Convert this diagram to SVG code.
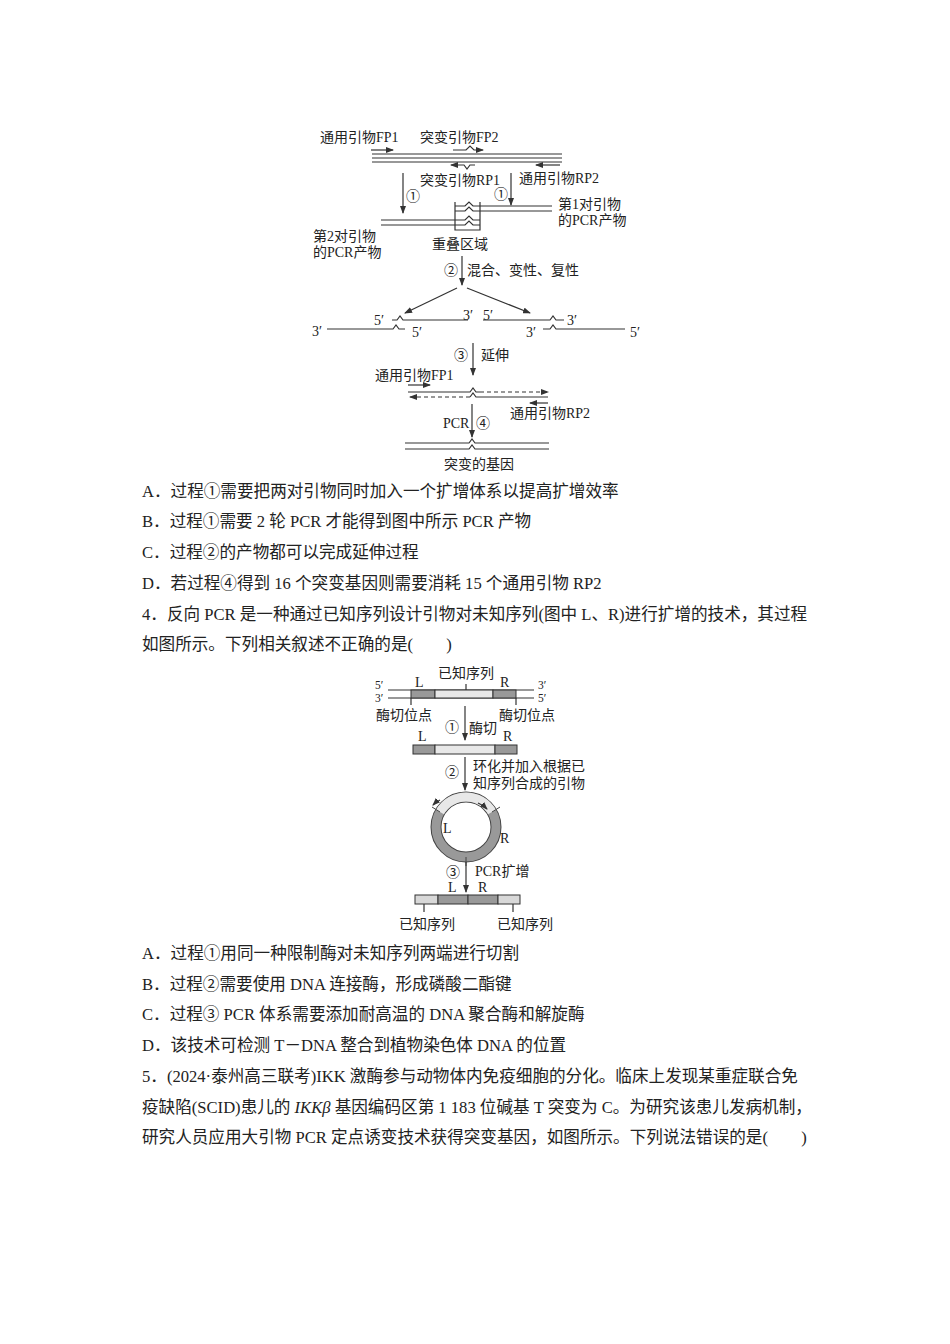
<svg xmlns="http://www.w3.org/2000/svg" width="950" height="1344" viewBox="0 0 950 1344">
<style>
text{font-family:"Liberation Serif","Noto Sans CJK SC",serif;fill:#222}
.b{font-size:16.6px}
.s{font-size:14px}
.t{font-size:11.5px}
.l{stroke:#333;stroke-width:1.2;fill:none}
.d{stroke:#333;stroke-width:1.2;fill:none;stroke-dasharray:4 3}
</style>
<defs>
<marker id="ah" markerWidth="8" markerHeight="6" refX="7" refY="3" orient="auto" markerUnits="userSpaceOnUse"><path d="M0,0L8,3L0,6z" fill="#333"/></marker>
</defs>
<rect width="950" height="1344" fill="#fff"/>

<g id="fig1">
<text class="s" x="320" y="142">通用引物FP1</text>
<text class="s" x="420" y="142">突变引物FP2</text>
<line class="l" x1="371" y1="150" x2="393" y2="150" marker-end="url(#ah)"/>
<path class="l" d="M453,150H466L470,146L474,150H483" marker-end="url(#ah)"/>
<line class="l" x1="372" y1="154" x2="562" y2="154"/>
<line class="l" x1="372" y1="158" x2="562" y2="158"/>
<line class="l" x1="372" y1="162" x2="562" y2="162"/>
<path class="l" d="M475,165H470L467,169L464,165H451" marker-end="url(#ah)"/>
<line class="l" x1="560" y1="165" x2="536" y2="165" marker-end="url(#ah)"/>
<text class="s" x="420" y="185">突变引物RP1</text>
<text class="s" x="519" y="183">通用引物RP2</text>
<line class="l" x1="403" y1="173" x2="403" y2="213" marker-end="url(#ah)"/>
<text class="s" x="406" y="201">①</text>
<line class="l" x1="511" y1="173" x2="511" y2="205" marker-end="url(#ah)"/>
<text class="s" x="494" y="199">①</text>
<path class="l" d="M455,206H465L469,202L473,206H552"/>
<path class="l" d="M455,211H465L469,207L473,211H552"/>
<path class="l" d="M381,220H465L469,216L473,220H480"/>
<path class="l" d="M381,225H465L469,221L473,225H480"/>
<path class="l" d="M455,202V230H480V202"/>
<text class="s" x="558" y="209">第1对引物</text>
<text class="s" x="558" y="225">的PCR产物</text>
<text class="s" x="313" y="241">第2对引物</text>
<text class="s" x="313" y="257">的PCR产物</text>
<text class="s" x="432" y="249">重叠区域</text>
<line class="l" x1="462" y1="256" x2="462" y2="285" marker-end="url(#ah)"/>
<text class="s" x="444" y="275">②</text>
<text class="s" x="467" y="275">混合、变性、复性</text>
<line class="l" x1="457" y1="288" x2="405" y2="313" marker-end="url(#ah)"/>
<line class="l" x1="467" y1="288" x2="530" y2="313" marker-end="url(#ah)"/>
<text class="s" x="374" y="325">5′</text>
<path class="l" d="M392,320H397L400,316L403,320H468"/>
<text class="s" x="463" y="320">3′</text>
<text class="s" x="312" y="336">3′</text>
<path class="l" d="M327,329H393L396,325L399,329H405"/>
<text class="s" x="412" y="337">5′</text>
<text class="s" x="483" y="320">5′</text>
<path class="l" d="M483,320H550L553,316L556,320H564"/>
<text class="s" x="567" y="325">3′</text>
<text class="s" x="526" y="337">3′</text>
<path class="l" d="M543,329H550L553,325L556,329H625"/>
<text class="s" x="630" y="337">5′</text>
<line class="l" x1="473" y1="343" x2="473" y2="375" marker-end="url(#ah)"/>
<text class="s" x="454" y="360">③</text>
<text class="s" x="481" y="360">延伸</text>
<text class="s" x="375" y="380">通用引物FP1</text>
<line class="l" x1="408" y1="385" x2="430" y2="385" marker-end="url(#ah)"/>
<path class="l" d="M408,392H470L473,388L476,392H480"/>
<line class="d" x1="480" y1="392" x2="548" y2="392" marker-end="url(#ah)"/>
<path class="l" d="M548,397H476L473,393L470,397"/>
<line class="d" x1="470" y1="397" x2="410" y2="397" marker-end="url(#ah)"/>
<line class="l" x1="548" y1="403" x2="530" y2="403" marker-end="url(#ah)"/>
<text class="s" x="510" y="418">通用引物RP2</text>
<line class="l" x1="472" y1="404" x2="472" y2="437" marker-end="url(#ah)"/>
<text class="s" x="443" y="428">PCR</text>
<text class="s" x="476" y="428">④</text>
<path class="l" d="M405,443H469L472,439L475,443H549"/>
<path class="l" d="M405,449H469L472,445L475,449H549"/>
<text class="s" x="444" y="469">突变的基因</text>
</g>

<g id="text1">
<text class="b" x="142" y="497">A．过程①需要把两对引物同时加入一个扩增体系以提高扩增效率</text>
<text class="b" x="142" y="527">B．过程①需要 2 轮 PCR 才能得到图中所示 PCR 产物</text>
<text class="b" x="142" y="558">C．过程②的产物都可以完成延伸过程</text>
<text class="b" x="142" y="589">D．若过程④得到 16 个突变基因则需要消耗 15 个通用引物 RP2</text>
<text class="b" x="142" y="620">4．反向 PCR 是一种通过已知序列设计引物对未知序列(图中 L、R)进行扩增的技术，其过程</text>
<text class="b" x="142" y="650">如图所示。下列相关叙述不正确的是(　　)</text>
</g>

<g id="fig2">
<text class="s" x="438" y="678">已知序列</text>
<line class="l" x1="466" y1="684" x2="466" y2="690"/>
<text class="t" x="375" y="689">5′</text>
<text class="t" x="375" y="702">3′</text>
<text class="t" x="538" y="689">3′</text>
<text class="t" x="538" y="702">5′</text>
<line class="l" x1="388" y1="690" x2="534" y2="690"/>
<line class="l" x1="388" y1="698" x2="534" y2="698"/>
<rect x="411" y="690" width="24" height="8" fill="#999" stroke="#333"/>
<rect x="435" y="690" width="58" height="8" fill="#e8e8e8" stroke="#333"/>
<rect x="493" y="690" width="23" height="8" fill="#999" stroke="#333"/>
<text class="s" x="415" y="687">L</text>
<text class="s" x="500" y="687">R</text>
<line class="l" x1="411" y1="698" x2="411" y2="705"/>
<line class="l" x1="516" y1="698" x2="516" y2="705"/>
<text class="s" x="376" y="720">酶切位点</text>
<text class="s" x="499" y="720">酶切位点</text>
<line class="l" x1="465" y1="706" x2="465" y2="740" marker-end="url(#ah)"/>
<text class="s" x="445" y="732">①</text>
<text class="s" x="469" y="733">酶切</text>
<text class="s" x="418" y="741">L</text>
<text class="s" x="503" y="741">R</text>
<rect x="413" y="745" width="22" height="9" fill="#999" stroke="#333"/>
<rect x="435" y="745" width="60" height="9" fill="#e8e8e8" stroke="#333"/>
<rect x="495" y="745" width="22" height="9" fill="#999" stroke="#333"/>
<line class="l" x1="465" y1="757" x2="465" y2="790" marker-end="url(#ah)"/>
<text class="s" x="445" y="777">②</text>
<text class="s" x="473" y="771">环化并加入根据已</text>
<text class="s" x="473" y="788">知序列合成的引物</text>
<circle cx="466" cy="827" r="30" fill="none" stroke="#444" stroke-width="11"/>
<circle cx="466" cy="827" r="30" fill="none" stroke="#999" stroke-width="9"/>
<path d="M440,812A30,30 0 0 1 492,812" fill="none" stroke="#e8e8e8" stroke-width="9"/>
<line x1="440" y1="812" x2="432" y2="807" stroke="#444"/>
<line x1="492" y1="812" x2="500" y2="807" stroke="#444"/>
<line x1="466" y1="857" x2="466" y2="866" stroke="#444"/>
<path class="l" d="M440,800Q436,802 433,805" marker-end="url(#ah)"/>
<path class="l" d="M478,803Q483,805 487,809" marker-end="url(#ah)"/>
<text class="s" x="443" y="833">L</text>
<text class="s" x="500" y="843">R</text>
<line class="l" x1="466" y1="862" x2="466" y2="892" marker-end="url(#ah)"/>
<text class="s" x="446" y="877">③</text>
<text class="s" x="475" y="876">PCR扩增</text>
<text class="s" x="448" y="892">L</text>
<text class="s" x="478" y="892">R</text>
<rect x="415" y="895" width="23" height="9" fill="#d8d8d8" stroke="#333"/>
<rect x="438" y="895" width="30" height="9" fill="#999" stroke="#333"/>
<rect x="468" y="895" width="30" height="9" fill="#999" stroke="#333"/>
<rect x="498" y="895" width="22" height="9" fill="#d8d8d8" stroke="#333"/>
<line class="l" x1="424" y1="904" x2="424" y2="912"/>
<line class="l" x1="513" y1="904" x2="513" y2="912"/>
<text class="s" x="399" y="929">已知序列</text>
<text class="s" x="497" y="929">已知序列</text>
</g>

<g id="text2">
<text class="b" x="142" y="959">A．过程①用同一种限制酶对未知序列两端进行切割</text>
<text class="b" x="142" y="990">B．过程②需要使用 DNA 连接酶，形成磷酸二酯键</text>
<text class="b" x="142" y="1020">C．过程③ PCR 体系需要添加耐高温的 DNA 聚合酶和解旋酶</text>
<text class="b" x="142" y="1051">D．该技术可检测 T－DNA 整合到植物染色体 DNA 的位置</text>
<text class="b" x="142" y="1082">5．(2024·泰州高三联考)IKK 激酶参与动物体内免疫细胞的分化。临床上发现某重症联合免</text>
<text class="b" x="142" y="1113">疫缺陷(SCID)患儿的 <tspan font-style="italic">IKKβ</tspan> 基因编码区第 1 183 位碱基 T 突变为 C。为研究该患儿发病机制，</text>
<text class="b" x="142" y="1143">研究人员应用大引物 PCR 定点诱变技术获得突变基因，如图所示。下列说法错误的是(　　)</text>
</g>
</svg>
